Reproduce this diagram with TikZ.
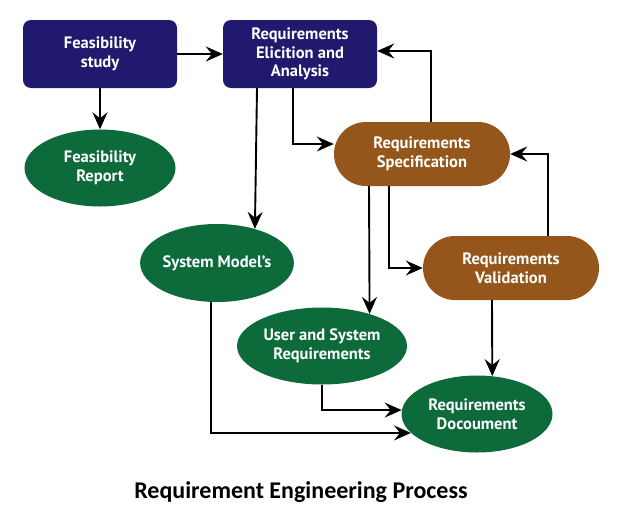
\documentclass[tikz,border=0pt]{standalone}
\usepackage{fontspec}
\setmainfont{PT Sans}
\newfontfamily\titlefont{Carlito}
\usetikzlibrary{shapes.geometric, arrows.meta}
\definecolor{navy}{HTML}{21196E}
\definecolor{rust}{HTML}{94561B}
\definecolor{leaf}{HTML}{0D6A3A}

\begin{document}
\begin{tikzpicture} [x=1pt, y=-1pt,
  lbl/.style = {text=white, align=center, inner sep=0pt, font=\bfseries\fontsize{16.5}{18.5}\selectfont},
  box/.style = {lbl, fill=navy, rounded corners=8pt, minimum width=154pt, minimum height=68pt},
  pill/.style = {lbl, fill=rust, rounded corners=32pt, minimum width=176pt, minimum height=64pt},
  oval/.style = {lbl, fill=leaf, ellipse, minimum width=151pt, minimum height=77pt},
  arr/.style = {line width=1.9pt, -{Stealth[length=17pt, width=15pt, inset=6pt]}}]
\useasboundingbox (0,0) rectangle (623,522);
\node[box] (fs) at (100,54) {Feasibility\\study};
\node[box] (elic) at (300,54) {Requirements\\Elicition and\\Analysis};
\node[oval] (fr) at (100,168) {Feasibility\\Report};
\node[pill] (spec) at (422,154) {Requirements\\Specification};
\node[oval, minimum height=78pt] (sm) at (217,263) {System Model's};
\node[pill] (val) at (511,268) {Requirements\\Validation};
\node[oval, minimum width=170pt] (usr) at (322,346) {User and System\\Requirements};
\node[oval] (doc) at (477,414) {Requirements\\Docoument};
\node[font=\titlefont\bfseries\fontsize{24}{28}\selectfont] (title) at (301,492) {Requirement Engineering Process};
\draw [arr] (fs) -- (elic);
\draw [arr] (fs) -- (fr);
\draw [arr] ([xshift=-43pt]elic.south) -- (sm.42);
\draw [arr] ([xshift=-7pt]elic.south) |- ([yshift=10pt]spec.west);
\draw [arr] ([xshift=9pt]spec.north) |- ([yshift=3pt]elic.east);
\draw [arr] ([xshift=37pt]val.north) |- (spec.east);
\draw [arr] ([xshift=-53pt]spec.south) -- (usr.34);
\draw [arr] ([xshift=-33pt]spec.south) |- (val.west);
\draw [arr] ([xshift=-19pt]val.south) -- (doc.68);
\draw [arr] ([xshift=-6pt]sm.south) |- (doc.196);
\draw [arr] (usr.south) |- (doc.177);
\end{tikzpicture}
\end{document}
